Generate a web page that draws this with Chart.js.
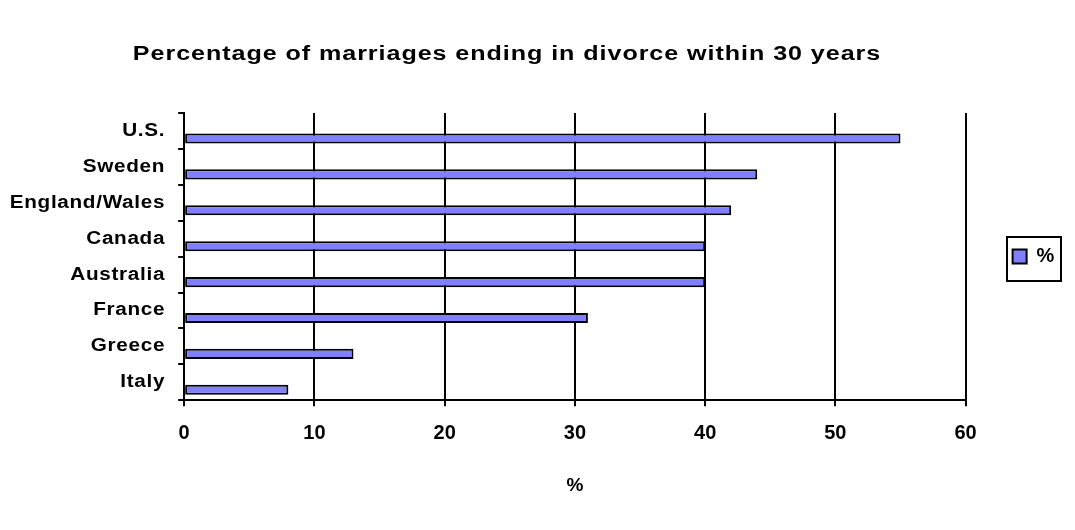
<!DOCTYPE html>
<html>
<head>
<meta charset="utf-8">
<title>Divorce within 30 years</title>
<script src="https://cdn.jsdelivr.net/npm/chart.js@4.4.1/dist/chart.umd.min.js"></script>
<style>
  html, body { margin: 0; padding: 0; background: #ffffff; }
  canvas { display: block; }
</style>
</head>
<body>
<canvas id="chart" width="1075" height="530"></canvas>
<script>
// Share of marriages that end in divorce within 30 years, by country
const countries = ['U.S.', 'Sweden', 'England/Wales', 'Canada', 'Australia', 'France', 'Greece', 'Italy'];
const divorcePct = [55, 44, 42, 40, 40, 31, 13, 8];
const xTickValues = [0, 10, 20, 30, 40, 50, 60];
const seriesName = '%';
const chartTitle = 'Percentage of marriages ending in divorce within 30 years';
const xAxisTitle = '%';

const FONT = '"Liberation Sans", Arial, Helvetica, sans-serif';
const BAR_FILL = '#8080FF';
const INK = '#000000';
const TITLE_SHIFT = -34;

// Wide-set lettering: horizontal stretch about an anchor plus a little tracking
function drawWide(ctx, anchorX, stretch, spacing, fn) {
  ctx.save();
  ctx.letterSpacing = spacing;
  ctx.translate(anchorX, 0);
  ctx.scale(stretch, 1);
  ctx.translate(-anchorX, 0);
  fn();
  ctx.restore();
}

const wideText = {
  id: 'wideText',
  beforeLayout(chart) {
    chart.ctx.letterSpacing = '0.6px';
  },
  afterLayout(chart) {
    chart.ctx.letterSpacing = '0px';
    const y = chart.scales.y;
    if (y && !y._wide) {
      const drawLabels = y.drawLabels.bind(y);
      y.drawLabels = (area) => {
        const items = y.getLabelItems(area);
        const ax = items.length ? items[0].options.translation[0] : y.right;
        drawWide(chart.ctx, ax, 1.15, '0.6px', () => drawLabels(area));
      };
      y._wide = true;
    }
    const t = chart.titleBlock;
    if (t && !t._wide) {
      const drawTitle = t.draw.bind(t);
      t.draw = () => {
        const cx = (t.left + t.right) / 2;
        chart.ctx.save();
        chart.ctx.translate(TITLE_SHIFT, 0);
        drawWide(chart.ctx, cx, 1.255, '0.75px', drawTitle);
        chart.ctx.restore();
      };
      t._wide = true;
    }
  },
  afterDraw(chart) {
    // frame around the legend entry
    const lg = chart.legend;
    if (!lg || !lg.legendHitBoxes || !lg.legendHitBoxes.length) return;
    const hb = lg.legendHitBoxes[0];
    const ctx = chart.ctx;
    const cy = hb.top + hb.height / 2 + 2;
    ctx.save();
    ctx.strokeStyle = INK;
    ctx.lineWidth = 2;
    ctx.strokeRect(Math.round(hb.left - 6), Math.round(cy - 22), Math.round(hb.width + 12), 44);
    ctx.restore();
  }
};

const barShape = {
  categoryPercentage: 0.84,
  barPercentage: 0.67
};

new Chart(document.getElementById('chart'), {
  type: 'bar',
  data: {
    labels: countries,
    datasets: [
      // empty leading slot: each bar sits in the lower half of its band
      Object.assign({ label: '', data: [] }, barShape),
      Object.assign({
        label: seriesName,
        data: divorcePct,
        backgroundColor: BAR_FILL,
        borderColor: INK,
        borderWidth: 2,
        borderSkipped: false
      }, barShape)
    ]
  },
  options: {
    indexAxis: 'y',
    responsive: false,
    animation: false,
    events: [],
    layout: { padding: { left: 17, right: 10, top: 0, bottom: 0 } },
    plugins: {
      title: {
        display: true,
        text: chartTitle,
        color: INK,
        font: { family: FONT, size: 20, weight: 'bold' },
        padding: { top: 42, bottom: 47 }
      },
      legend: {
        position: 'right',
        fullSize: false,
        labels: {
          color: INK,
          font: { family: FONT, size: 20, weight: 'bold' },
          boxWidth: 14,
          boxHeight: 14,
          padding: 47,
          filter: (item) => item.text !== ''
        }
      },
      tooltip: { enabled: false }
    },
    scales: {
      x: {
        type: 'linear',
        min: xTickValues[0],
        max: xTickValues[xTickValues.length - 1],
        afterBuildTicks: (scale) => { scale.ticks = xTickValues.map(v => ({ value: v })); },
        ticks: {
          color: INK,
          font: { family: FONT, size: 20, weight: 'bold' },
          padding: 15
        },
        grid: {
          color: INK,
          lineWidth: 2,
          drawTicks: true,
          tickLength: 6
        },
        border: { color: INK, width: 2 },
        title: {
          display: true,
          text: xAxisTitle,
          color: INK,
          font: { family: FONT, size: 19, weight: 'bold' },
          padding: { top: 14, bottom: 33 }
        }
      },
      y: {
        type: 'category',
        ticks: {
          color: INK,
          font: { family: FONT, size: 18, weight: 'bold' },
          padding: 13,
          autoSkip: false
        },
        grid: {
          display: true,
          drawOnChartArea: false,
          drawTicks: true,
          tickLength: 6,
          offset: true,
          color: INK,
          lineWidth: 2
        },
        border: { color: INK, width: 2 }
      }
    }
  },
  plugins: [wideText]
});
</script>
</body>
</html>
